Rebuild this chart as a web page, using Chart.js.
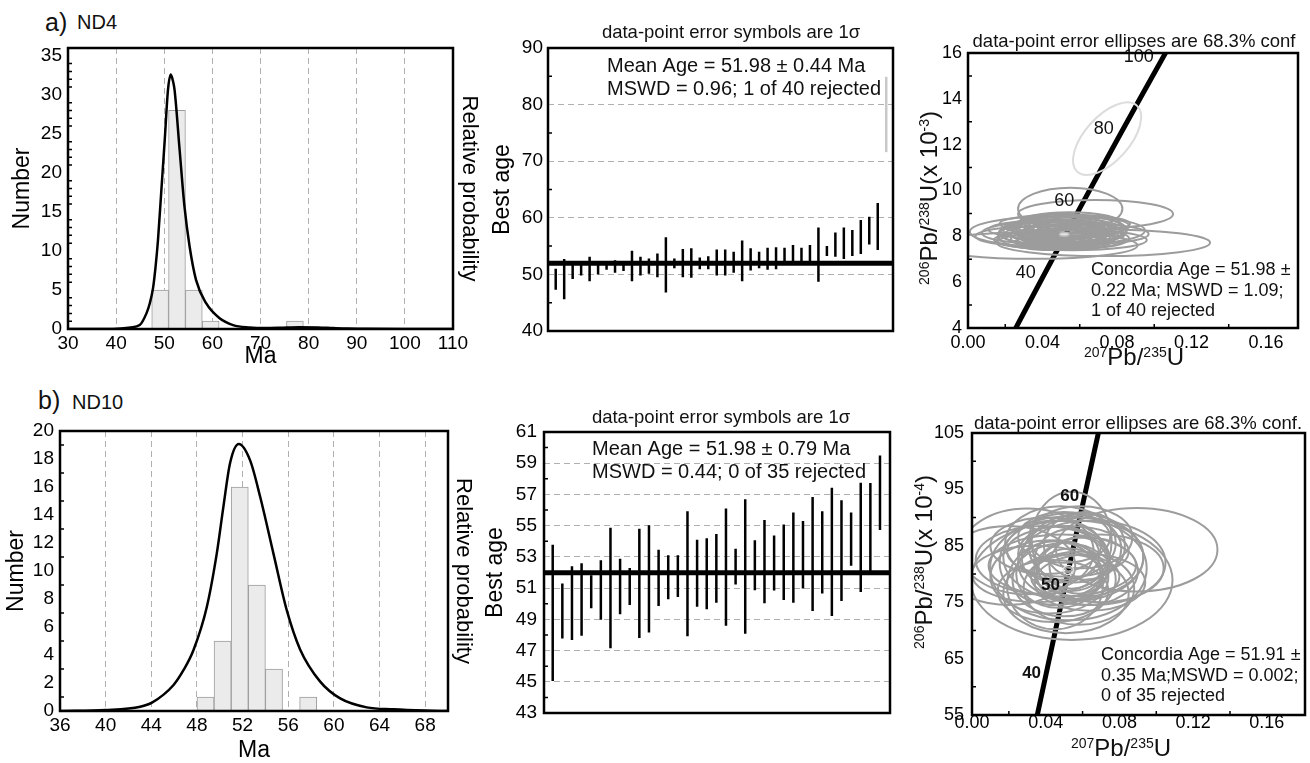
<!DOCTYPE html>
<html>
<head>
<meta charset="utf-8">
<script src="https://cdn.jsdelivr.net/npm/chart.js@4.4.1/dist/chart.umd.min.js"></script>
<style>
  html, body { margin: 0; padding: 0; background: #fff; overflow: hidden; }
  body { width: 1310px; height: 763px; position: relative; font-family: "Liberation Sans", Arial, Helvetica, sans-serif; }
  canvas { position: absolute; left: 0; top: 0; }
  .lbl { position: absolute; color: #111; white-space: nowrap; line-height: 1; }
</style>
</head>
<body>
<div class="lbl" style="left:45px;top:10px;font-size:25px">a)</div>
<div class="lbl" style="left:77px;top:12px;font-size:20px">ND4</div>
<div class="lbl" style="left:38px;top:388px;font-size:25px">b)</div>
<div class="lbl" style="left:72px;top:392px;font-size:20px">ND10</div>
<canvas id="a1" width="1310" height="763"></canvas>
<canvas id="a2" width="1310" height="763"></canvas>
<canvas id="a3" width="1310" height="763"></canvas>
<canvas id="b1" width="1310" height="763"></canvas>
<canvas id="b2" width="1310" height="763"></canvas>
<canvas id="b3" width="1310" height="763"></canvas>
<script>
const FONT = '"Liberation Sans", Arial, Helvetica, sans-serif';
const W = 1310, H = 763;

// ---- a) ND4 : histogram + probability curve
const a1BinEdges = [47.4, 50.9, 54.4, 57.9, 61.4, 64.9, 68.4, 71.9, 75.4, 78.9];
const a1Counts = [5, 28, 5, 1, 0, 0, 0, 0, 1];
const a1CurveAge = [30, 38, 41, 43, 44.9, 46.3, 47.0, 47.66, 48.2, 48.7, 49.4, 50.1, 50.77, 51.36, 51.8, 52.15, 53.2, 54.2, 55.26, 56.6, 58.7, 61.5, 64.3, 67.7, 71, 74, 78, 82, 85, 88, 92, 100, 110];
const a1CurveProb = [0, 0, 0.08, 0.2, 0.5, 2.0, 3.3, 5.2, 8.0, 11.4, 17.8, 24.2, 30.6, 32.6, 31.8, 30.6, 22.9, 15.7, 10.6, 6.3, 3.3, 1.37, 0.5, 0.2, 0.12, 0.15, 0.22, 0.2, 0.12, 0.05, 0.02, 0, 0];
const a1XTicks = [30, 40, 50, 60, 70, 80, 90, 100, 110];
const a1YTicks = [0, 5, 10, 15, 20, 25, 30, 35];
const a1YMinor = [1, 2, 3, 4, 6, 7, 8, 9, 11, 12, 13, 14, 16, 17, 18, 19, 21, 22, 23, 24, 26, 27, 28, 29, 31, 32, 33, 34];

// ---- a) ND4 : weighted mean (1 sigma bars, sorted)
const a2Low = [47.3, 45.6, 49.2, 49.8, 48.8, 50.0, 50.8, 50.3, 50.6, 48.8, 49.8, 50.1, 49.5, 46.8, 51.1, 49.5, 49.4, 50.9, 50.9, 49.8, 49.8, 50.3, 48.8, 50.7, 51.1, 50.8, 50.9, 52.1, 52.2, 52.1, 52.2, 48.7, 53.25, 53.1, 52.7, 53.25, 53.6, 55.3, 54.3];
const a2High = [51.0, 52.7, 51.8, 52.0, 53.1, 52.0, 51.7, 52.5, 51.9, 54.2, 53.1, 52.8, 53.7, 56.55, 52.8, 54.5, 54.6, 53.0, 53.2, 54.4, 54.4, 54.0, 56.0, 54.6, 54.0, 54.7, 54.8, 54.7, 55.2, 54.7, 55.2, 58.3, 55.0, 57.4, 58.3, 57.85, 59.6, 60.2, 62.6];
const a2RejLow = [71.6];
const a2RejHigh = [84.9];
const a2Mean = 51.98;
const a2YTicks = [40, 50, 60, 70, 80, 90];
const a2YMinor = [45, 55, 65, 75, 85];

// ---- a) ND4 : concordia
const a3ConcAge = [25, 30, 40, 50, 60, 70, 80, 90, 100, 105];
const a3ConcX = [0.02493, 0.02999, 0.04018, 0.05048, 0.06087, 0.07137, 0.08198, 0.09268, 0.10350, 0.10894];
const a3ConcY = [3.886, 4.665, 6.224, 7.786, 9.351, 10.918, 12.487, 14.059, 15.633, 16.422];
const a3LabelAges = [40, 60, 80, 100];
const a3EllX = [0.0549, 0.0685, 0.0727, 0.0350, 0.0431, 0.0557, 0.0462, 0.0520, 0.0500, 0.0540, 0.0480, 0.0560, 0.0510, 0.0530, 0.0470, 0.0580, 0.0495, 0.0545, 0.0450, 0.0600, 0.0520, 0.0505, 0.0565, 0.0490, 0.0535, 0.0475, 0.0585, 0.0440, 0.0520, 0.0620, 0.0455, 0.0510, 0.0545, 0.0390, 0.0570, 0.0500, 0.0530, 0.0480, 0.0555];
const a3EllY = [9.20, 8.97, 7.72, 7.60, 8.20, 7.84, 8.02, 8.30, 8.10, 7.95, 8.25, 8.15, 7.90, 8.40, 7.95, 8.05, 8.15, 8.20, 8.05, 8.30, 8.00, 8.35, 7.90, 7.85, 8.10, 8.40, 8.45, 8.30, 8.55, 8.10, 8.15, 7.75, 8.60, 8.00, 8.25, 8.45, 7.85, 8.00, 8.35];
const a3EllRx = [0.0280, 0.0416, 0.0573, 0.0560, 0.0421, 0.0403, 0.0300, 0.0260, 0.0220, 0.0250, 0.0240, 0.0200, 0.0280, 0.0300, 0.0190, 0.0230, 0.0330, 0.0170, 0.0260, 0.0250, 0.0150, 0.0200, 0.0300, 0.0350, 0.0120, 0.0280, 0.0280, 0.0330, 0.0350, 0.0350, 0.0380, 0.0260, 0.0270, 0.0350, 0.0380, 0.0230, 0.0200, 0.0160, 0.0180];
const a3EllRy = [0.92, 0.62, 0.58, 0.58, 0.65, 0.45, 0.62, 0.55, 0.50, 0.40, 0.45, 0.42, 0.38, 0.50, 0.35, 0.35, 0.55, 0.30, 0.45, 0.55, 0.28, 0.38, 0.45, 0.42, 0.25, 0.30, 0.45, 0.40, 0.40, 0.45, 0.50, 0.30, 0.45, 0.45, 0.60, 0.55, 0.30, 0.32, 0.40];
const a3RejX = [0.0747], a3RejY = [12.26], a3RejRx = [0.0239], a3RejRy = [0.973], a3RejRot = [-48];
const a3AgeX = [0.0517], a3AgeY = [8.09], a3AgeRx = [0.0025], a3AgeRy = [0.08];
const a3XTicks = [0, 0.04, 0.08, 0.12, 0.16];
const a3YTicks = [4, 6, 8, 10, 12, 14, 16];
const a3XMinor = [0.02, 0.06, 0.10, 0.14];
const a3YMinor = [5, 7, 9, 11, 13, 15];

// ---- b) ND10 : histogram + probability curve
const b1BinEdges = [48, 49.5, 51, 52.5, 54, 55.5, 57, 58.5];
const b1Counts = [1, 5, 16, 9, 3, 0, 1];
const b1CurveAge = [36, 40, 43.03, 44.06, 45.95, 46.83, 47.7, 48.87, 49.74, 50.32, 50.9, 51.67, 52.66, 53.54, 54.7, 55.87, 57.04, 58.8, 60.55, 62.88, 65.2, 68, 70];
const b1CurveProb = [0, 0.07, 0.31, 0.6, 1.86, 2.93, 4.36, 7.45, 11.26, 14.6, 17.7, 19.07, 17.9, 15.3, 11.26, 7.2, 4.4, 2.1, 0.9, 0.26, 0.12, 0.03, 0];
const b1XTicks = [36, 40, 44, 48, 52, 56, 60, 64, 68];
const b1YTicks = [0, 2, 4, 6, 8, 10, 12, 14, 16, 18, 20];
const b1YMinor = [1, 3, 5, 7, 9, 11, 13, 15, 17, 19];

// ---- b) ND10 : weighted mean
const b2Low = [45.05, 47.78, 47.68, 47.95, 49.71, 48.97, 47.15, 49.33, 49.92, 47.8, 48.16, 49.86, 50.28, 50.43, 47.91, 49.81, 49.65, 50.07, 48.59, 51.23, 48.08, 50.87, 50.03, 50.85, 50.24, 50.07, 50.98, 49.54, 50.66, 49.22, 50.17, 52.44, 50.75, 52.1, 54.72];
const b2High = [53.77, 51.3, 52.4, 52.6, 51.83, 52.78, 54.87, 52.88, 52.29, 54.81, 55.02, 53.45, 53.1, 53.1, 55.93, 54.09, 54.2, 54.47, 56.1, 53.52, 56.69, 54.07, 55.36, 54.37, 55.08, 55.85, 55.3, 56.84, 55.93, 57.43, 56.63, 55.85, 57.75, 57.73, 59.49];
const b2Mean = 51.98;
const b2YTicks = [43, 45, 47, 49, 51, 53, 55, 57, 59, 61];
const b2YMinor = [44, 46, 48, 50, 52, 54, 56, 58, 60];

// ---- b) ND10 : concordia
const b3ConcAge = [35, 40, 45, 50, 55, 60, 65, 70];
const b3ConcX = [0.03507, 0.04018, 0.04532, 0.05048, 0.05566, 0.06087, 0.06611, 0.07137];
const b3ConcY = [54.44, 62.24, 70.05, 77.86, 85.68, 93.51, 101.34, 109.18];
const b3LabelAges = [40, 50, 60];
const b3EllX = [0.0541, 0.0300, 0.0894, 0.0541, 0.0200, 0.0523, 0.0450, 0.0600, 0.0500, 0.0560, 0.0480, 0.0620, 0.0420, 0.0540, 0.0580, 0.0470, 0.0650, 0.0380, 0.0510, 0.0590, 0.0530, 0.0440, 0.0700, 0.0490, 0.0560, 0.0400, 0.0610, 0.0520, 0.0470, 0.0580, 0.0350, 0.0640, 0.0550, 0.0500, 0.0450];
const b3EllY = [86.0, 84.0, 84.3, 78.9, 81.5, 81.0, 82.0, 83.0, 79.0, 84.5, 85.5, 80.5, 79.5, 82.5, 77.5, 83.5, 82.0, 82.5, 76.5, 86.5, 80.0, 77.0, 81.0, 81.5, 79.5, 85.0, 85.0, 84.0, 80.0, 81.5, 80.0, 78.5, 83.0, 86.5, 78.0];
const b3EllRx = [0.0217, 0.0360, 0.0438, 0.0547, 0.0360, 0.0425, 0.0300, 0.0330, 0.0280, 0.0250, 0.0300, 0.0280, 0.0320, 0.0200, 0.0300, 0.0220, 0.0400, 0.0360, 0.0340, 0.0280, 0.0180, 0.0300, 0.0340, 0.0400, 0.0240, 0.0300, 0.0220, 0.0330, 0.0230, 0.0160, 0.0350, 0.0300, 0.0380, 0.0250, 0.0260];
const b3EllRy = [8.6, 7.6, 7.4, 10.6, 7.0, 9.2, 7.5, 7.0, 6.5, 6.0, 6.5, 6.0, 6.5, 5.5, 6.5, 5.0, 7.5, 6.0, 7.0, 5.5, 4.5, 5.5, 6.0, 5.5, 4.0, 5.0, 6.0, 4.5, 6.0, 5.0, 5.0, 5.0, 7.8, 4.5, 7.8];
const b3AgeX = [0.0523], b3AgeY = [80.7], b3AgeRx = [0.0028], b3AgeRy = [0.8];
const b3XTicks = [0, 0.04, 0.08, 0.12, 0.16];
const b3YTicks = [55, 65, 75, 85, 95, 105];
const b3XMinor = [0.02, 0.06, 0.10, 0.14];
const b3YMinor = [60, 70, 80, 90, 100];

Chart.defaults.font.family = FONT;
Chart.defaults.color = '#000';
Chart.defaults.animation = false;

// plot areas on the page (pixels)
const A1 = { l: 68, t: 48, r: 453, b: 329 };
const A2 = { l: 548, t: 48, r: 893, b: 331 };
const A3 = { l: 968, t: 53, r: 1298, b: 328 };
const B1 = { l: 60, t: 431, r: 448, b: 711 };
const B2 = { l: 544, t: 432, r: 890, b: 713 };
const B3 = { l: 972, t: 433, r: 1305, b: 715 };

function pad(area, yw, xh, rw) {
  return { left: area.l - yw, top: area.t, right: W - area.r - rw, bottom: H - area.b - xh };
}
function setTicks(arr) { return s => { s.ticks = arr.map(v => ({ value: v })); }; }
function innerGrid(lo, hi) {
  return c => (c.tick && c.tick.value > lo && c.tick.value < hi) ? '#b0b0b0' : 'rgba(0,0,0,0)';
}
function pts(xs, ys) { return xs.map((v, i) => ({ x: v, y: ys[i] })); }
function barPts(lo, hi, first) {
  const out = [];
  lo.forEach((v, i) => {
    out.push({ x: first + i, y: v }, { x: first + i, y: hi[i] }, { x: first + i, y: null });
  });
  return out;
}
function centers(edges) { return edges.slice(0, -1).map((e, i) => (e + edges[i + 1]) / 2); }

function drawRich(ctx, parts, cx, cy, rot, big, small) {
  ctx.save();
  ctx.translate(cx, cy);
  ctx.rotate(rot);
  ctx.fillStyle = '#111';
  ctx.textAlign = 'left';
  ctx.textBaseline = 'alphabetic';
  let total = 0;
  parts.forEach(p => { ctx.font = (p[1] ? small : big) + 'px ' + FONT; total += ctx.measureText(p[0]).width; });
  let x = -total / 2;
  const base = big * 0.36;
  parts.forEach(p => {
    ctx.font = (p[1] ? small : big) + 'px ' + FONT;
    ctx.fillText(p[0], x, p[1] ? base - big * 0.32 : base);
    x += ctx.measureText(p[0]).width;
  });
  ctx.restore();
}

function decor(cfg) {
  return {
    id: 'decor',
    afterDatasetsDraw(chart) {
      const { ctx, chartArea: a } = chart;
      const sx = chart.scales.x, sy = chart.scales.y;
      if (cfg.ellipses) {
        ctx.save();
        ctx.beginPath();
        ctx.rect(a.left, a.top, a.right - a.left, a.bottom - a.top);
        ctx.clip();
        cfg.ellipses.forEach(g => {
          ctx.strokeStyle = g.color;
          ctx.lineWidth = g.width;
          g.x.forEach((cx, i) => {
            const px = sx.getPixelForValue(cx), py = sy.getPixelForValue(g.y[i]);
            const rx = Math.abs(sx.getPixelForValue(cx + g.rx[i]) - px);
            const ry = Math.abs(sy.getPixelForValue(g.y[i] + g.ry[i]) - py);
            const rot = g.rot ? g.rot[i] * Math.PI / 180 : 0;
            ctx.beginPath();
            ctx.ellipse(px, py, rx, ry, rot, 0, Math.PI * 2);
            if (g.fill) { ctx.fillStyle = g.fill; ctx.fill(); }
            ctx.stroke();
          });
        });
        ctx.restore();
      }
      if (cfg.conc) {
        const c = cfg.conc;
        ctx.save();
        ctx.fillStyle = '#111';
        ctx.font = (c.bold ? 'bold ' : '') + c.size + 'px ' + FONT;
        ctx.textAlign = 'right';
        ctx.textBaseline = 'middle';
        c.labels.forEach(age => {
          const i = c.ages.indexOf(age);
          ctx.fillText(String(age), sx.getPixelForValue(c.xs[i]) + c.dx, sy.getPixelForValue(c.ys[i]) + c.dy);
        });
        ctx.restore();
      }
      // inward minor ticks
      ctx.save();
      ctx.strokeStyle = '#000';
      ctx.lineWidth = 1.5;
      ctx.beginPath();
      (cfg.minorY || []).forEach(v => {
        const p = sy.getPixelForValue(v);
        ctx.moveTo(a.left, p); ctx.lineTo(a.left + 4, p);
      });
      (cfg.minorX || []).forEach(v => {
        const p = sx.getPixelForValue(v);
        ctx.moveTo(p, a.bottom); ctx.lineTo(p, a.bottom - 4);
      });
      ctx.stroke();
      ctx.restore();
      ctx.save();
      ctx.strokeStyle = '#000';
      ctx.lineWidth = 2.5;
      ctx.strokeRect(a.left, a.top, a.right - a.left, a.bottom - a.top);
      ctx.restore();
      (cfg.texts || []).forEach(t => {
        ctx.save();
        ctx.fillStyle = '#111';
        ctx.font = t.size + 'px ' + FONT;
        ctx.textAlign = t.align || 'left';
        ctx.textBaseline = 'middle';
        ctx.fillText(t.t, t.x, t.y);
        ctx.restore();
      });
      (cfg.rich || []).forEach(r => drawRich(ctx, r.parts, r.x, r.y, r.rot, r.big, r.small));
    }
  };
}

function baseOptions(padding, scales) {
  return {
    responsive: false,
    animation: false,
    layout: { padding: padding, autoPadding: false },
    plugins: { legend: { display: false }, tooltip: { enabled: false } },
    scales: scales
  };
}

function histChart(id, area, edges, counts, curveX, curveY, xr, yr, xt, yt, yMinor, sizes) {
  const mids = centers(edges);
  return new Chart(document.getElementById(id), {
    type: 'bar',
    data: {
      datasets: [
        { type: 'line', data: pts(curveX, curveY), borderColor: '#000', borderWidth: 2.5, pointRadius: 0,
          cubicInterpolationMode: 'monotone', fill: false, clip: 0 },
        { type: 'bar', data: pts(mids, counts), backgroundColor: '#ebebeb', borderColor: '#9d9d9d', borderWidth: 1,
          barPercentage: 1, categoryPercentage: 1, grouped: false }
      ]
    },
    options: baseOptions(pad(area, sizes.yw, sizes.xh, sizes.rw), {
      x: { type: 'linear', min: xr[0], max: xr[1], offset: false, afterBuildTicks: setTicks(xt),
        afterFit: s => { s.height = sizes.xh; },
        ticks: { font: { size: 19 }, padding: 3, maxRotation: 0, autoSkip: false },
        grid: { offset: false, color: innerGrid(xr[0], xr[1]), lineWidth: 1, drawTicks: false },
        border: { display: false, dash: [6, 4] },
        title: { display: true, text: 'Ma', font: { size: 23, lineHeight: 1 }, padding: 0 } },
      y: { type: 'linear', min: yr[0], max: yr[1], afterBuildTicks: setTicks(yt),
        afterFit: s => { s.width = sizes.yw; },
        ticks: { font: { size: 19 }, padding: 6 },
        grid: { display: false, drawTicks: false }, border: { display: false },
        title: { display: true, text: 'Number', font: { size: 23, lineHeight: 1 }, padding: 0 } },
      y2: { type: 'linear', position: 'right', min: 0, max: 1,
        afterFit: s => { s.width = sizes.rw; },
        ticks: { display: false }, grid: { display: false, drawTicks: false }, border: { display: false },
        title: { display: true, text: 'Relative probability', font: { size: 22, lineHeight: 1 }, padding: 0 } }
    }),
    plugins: [decor({ minorY: yMinor })]
  });
}

function meanChart(id, area, lo, hi, rejLo, rejHi, mean, xr, yr, yt, yMinor, yw, pd, texts) {
  const datasets = [
    { data: [{ x: xr[0], y: mean }, { x: xr[1], y: mean }], borderColor: '#000', borderWidth: 5, pointRadius: 0, clip: 0 },
    { data: barPts(lo, hi, 1), borderColor: '#000', borderWidth: 2.5, pointRadius: 0, spanGaps: false, clip: 0 }
  ];
  if (rejLo.length) {
    datasets.push({ data: barPts(rejLo, rejHi, lo.length + 1), borderColor: '#c8c8c8', borderWidth: 2.5,
      pointRadius: 0, spanGaps: false, clip: 0 });
  }
  return new Chart(document.getElementById(id), {
    type: 'line',
    data: { datasets: datasets },
    options: baseOptions(pad(area, yw, 0, 0), {
      x: { type: 'linear', min: xr[0], max: xr[1], display: false },
      y: { type: 'linear', min: yr[0], max: yr[1], afterBuildTicks: setTicks(yt),
        afterFit: s => { s.width = yw; },
        ticks: { font: { size: 19 }, padding: pd },
        grid: { color: innerGrid(yr[0], yr[1]), lineWidth: 1, drawTicks: false },
        border: { display: false, dash: [6, 4] },
        title: { display: true, text: 'Best age', font: { size: 23, lineHeight: 1 }, padding: 0 } }
    }),
    plugins: [decor({ texts: texts, minorY: yMinor })]
  });
}

function concChart(id, area, cx, cy, xr, yr, xt, yt, sizes, deco) {
  return new Chart(document.getElementById(id), {
    type: 'line',
    data: { datasets: [
      { data: pts(cx, cy), borderColor: '#000', borderWidth: 5, pointRadius: 0, tension: 0, clip: 0 }
    ] },
    options: baseOptions(pad(area, sizes.yw, sizes.xh, 0), {
      x: { type: 'linear', min: xr[0], max: xr[1], afterBuildTicks: setTicks(xt),
        afterFit: s => { s.height = sizes.xh; },
        ticks: { font: { size: 18 }, padding: sizes.xpad, maxRotation: 0, autoSkip: false, callback: v => v.toFixed(2) },
        grid: { display: false, drawTicks: false }, border: { display: false } },
      y: { type: 'linear', min: yr[0], max: yr[1], afterBuildTicks: setTicks(yt),
        afterFit: s => { s.width = sizes.yw; },
        ticks: { font: { size: 18 }, padding: sizes.ypad },
        grid: { display: false, drawTicks: false }, border: { display: false } }
    }),
    plugins: [decor(deco)]
  });
}

histChart('a1', A1, a1BinEdges, a1Counts, a1CurveAge, a1CurveProb, [30, 110], [0, 36], a1XTicks, a1YTicks, a1YMinor,
  { yw: 56.5, xh: 39.5, rw: 27.5 });

meanChart('a2', A2, a2Low, a2High, a2RejLow, a2RejHigh, a2Mean, [0.09, 40.8], [40, 90], a2YTicks, a2YMinor, 56.5, 5, [
  { t: 'data-point error symbols are 1σ', x: 731, y: 33, size: 18.5, align: 'center' },
  { t: 'Mean Age = 51.98 ± 0.44 Ma', x: 607, y: 66, size: 20 },
  { t: 'MSWD = 0.96; 1 of 40 rejected', x: 607, y: 89.5, size: 20 }
]);

concChart('a3', A3, a3ConcX, a3ConcY, [0, 0.1772], [4, 16], a3XTicks, a3YTicks,
  { yw: 40, xh: 30, xpad: 4, ypad: 6 }, {
    ellipses: [
      { x: a3EllX, y: a3EllY, rx: a3EllRx, ry: a3EllRy, color: '#9c9c9c', width: 2 },
      { x: a3RejX, y: a3RejY, rx: a3RejRx, ry: a3RejRy, rot: a3RejRot, color: '#dcdcdc', width: 2 },
      { x: a3AgeX, y: a3AgeY, rx: a3AgeRx, ry: a3AgeRy, color: '#bdbdbd', width: 1.5, fill: '#e6e6e6' }
    ],
    conc: { ages: a3ConcAge, xs: a3ConcX, ys: a3ConcY, labels: a3LabelAges, size: 18, bold: false, dx: -7, dy: -4 },
    minorX: a3XMinor, minorY: a3YMinor,
    texts: [
      { t: 'data-point error ellipses are 68.3% conf', x: 1134, y: 41.5, size: 18.5, align: 'center' },
      { t: 'Concordia Age = 51.98 ±', x: 1091, y: 270, size: 18 },
      { t: '0.22 Ma; MSWD = 1.09;', x: 1091, y: 291.5, size: 18 },
      { t: '1 of 40 rejected', x: 1091, y: 311.5, size: 18 }
    ],
    rich: [
      { parts: [['206', 1], ['Pb/', 0], ['238', 1], ['U(x 10', 0], ['-3', 1], [')', 0]], x: 928, y: 198, rot: -Math.PI / 2, big: 24, small: 14 },
      { parts: [['207', 1], ['Pb/', 0], ['235', 1], ['U', 0]], x: 1134, y: 356, rot: 0, big: 24, small: 14 }
    ]
  });

histChart('b1', B1, b1BinEdges, b1Counts, b1CurveAge, b1CurveProb, [36, 70], [0, 20], b1XTicks, b1YTicks, b1YMinor,
  { yw: 54.5, xh: 51.5, rw: 26 });

meanChart('b2', B2, b2Low, b2High, [], [], b2Mean, [0.095, 36.04], [43, 61], b2YTicks, b2YMinor, 59.5, 7, [
  { t: 'data-point error symbols are 1σ', x: 721, y: 417.5, size: 18.5, align: 'center' },
  { t: 'Mean Age = 51.98 ± 0.79 Ma', x: 592, y: 449.5, size: 20 },
  { t: 'MSWD = 0.44; 0 of 35 rejected', x: 592, y: 472.5, size: 20 }
]);

concChart('b3', B3, b3ConcX, b3ConcY, [0, 0.1807], [55, 105], b3XTicks, b3YTicks,
  { yw: 40, xh: 25, xpad: -3, ypad: 8 }, {
    ellipses: [
      { x: b3EllX, y: b3EllY, rx: b3EllRx, ry: b3EllRy, color: '#9c9c9c', width: 2 },
      { x: b3AgeX, y: b3AgeY, rx: b3AgeRx, ry: b3AgeRy, color: '#e0e0e0', width: 1.5 }
    ],
    conc: { ages: b3ConcAge, xs: b3ConcX, ys: b3ConcY, labels: b3LabelAges, size: 17, bold: true, dx: -5, dy: -1 },
    minorX: b3XMinor, minorY: b3YMinor,
    texts: [
      { t: 'data-point error ellipses are 68.3% conf.', x: 1138, y: 423.5, size: 18.5, align: 'center' },
      { t: 'Concordia Age = 51.91 ±', x: 1101, y: 655, size: 18 },
      { t: '0.35 Ma;MSWD = 0.002;', x: 1101, y: 676, size: 18 },
      { t: '0 of 35 rejected', x: 1101, y: 696.5, size: 18 }
    ],
    rich: [
      { parts: [['206', 1], ['Pb/', 0], ['238', 1], ['U(x 10', 0], ['-4', 1], [')', 0]], x: 923, y: 562, rot: -Math.PI / 2, big: 24, small: 14 },
      { parts: [['207', 1], ['Pb/', 0], ['235', 1], ['U', 0]], x: 1121, y: 747, rot: 0, big: 24, small: 14 }
    ]
  });
</script>
</body>
</html>
